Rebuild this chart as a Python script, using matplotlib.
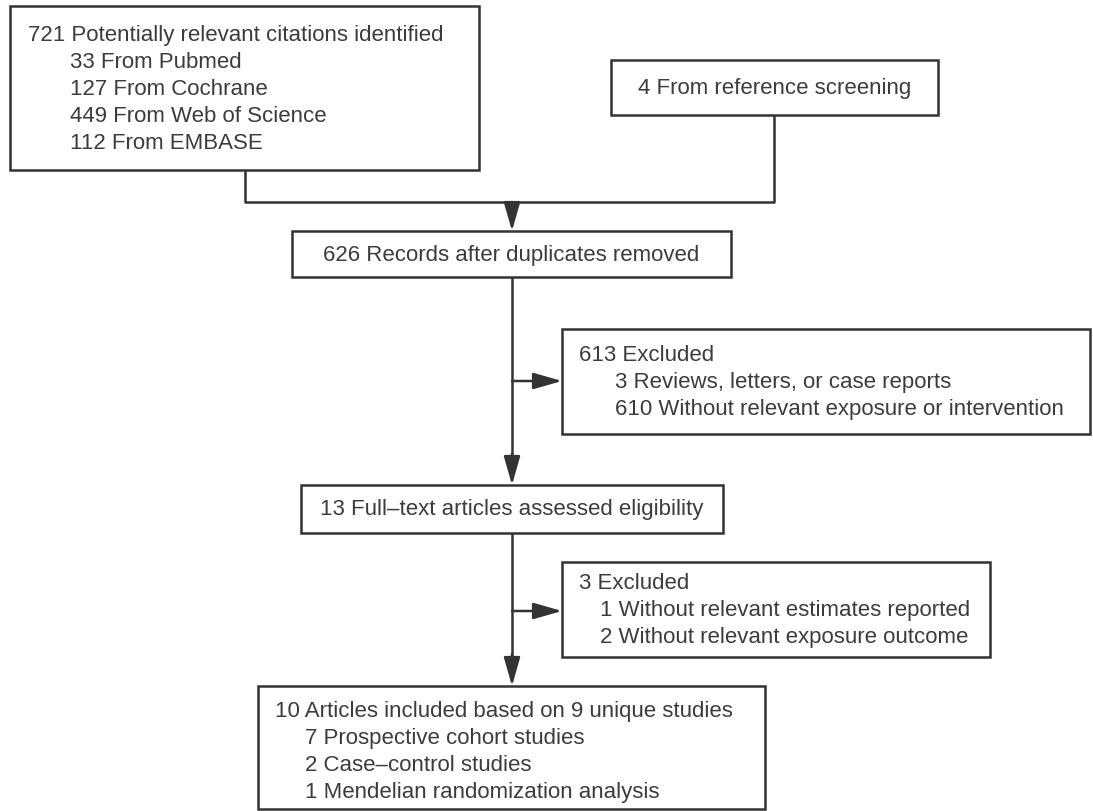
import matplotlib
matplotlib.use('Agg')
import matplotlib.pyplot as plt
from matplotlib.patches import Rectangle

# Box texts of the flow diagram
search_lines = ['721 Potentially relevant citations identified',
	'33 From Pubmed',
	'127 From Cochrane',
	'449 From Web of Science',
	'112 From EMBASE']
reference_lines = ['4 From reference screening']
dedup_lines = ['626 Records after duplicates removed']
excluded1_lines = ['613 Excluded',
	'3 Reviews, letters, or case reports',
	'610 Without relevant exposure or intervention']
fulltext_lines = ['13 Full\u2013text articles assessed eligibility']
excluded2_lines = ['3 Excluded',
	'1 Without relevant estimates reported',
	'2 Without relevant exposure outcome']
included_lines = ['10 Articles included based on 9 unique studies',
	'7 Prospective cohort studies',
	'2 Case\u2013control studies',
	'1 Mendelian randomization analysis']

INK = '#333333'
TXT = '#3c3c3c'
FS = 16
STEP = 26.8 # line spacing in px

def box(ax, x0, y0, x1, y1):
	ax.add_patch(Rectangle((x0, y0), x1-x0, y1-y0, fill=False, edgecolor=INK, lw=1.8))

def list_text(ax, lines, x, xind, y):
	# first line at x, the rest indented at xind
	for i, s in enumerate(lines):
		ax.text(x if i == 0 else xind, y + i*STEP, s, ha='left', va='center',
			fontsize=FS, color=TXT)

def centre_text(ax, lines, x0, y0, x1, y1):
	ax.text((x0+x1)/2, (y0+y1)/2, lines[0], ha='center', va='center', fontsize=FS, color=TXT)

def line(ax, xs, ys):
	ax.plot(xs, ys, color=INK, lw=1.8, solid_capstyle='butt')

def arrow(ax, x0, y0, x1, y1):
	ax.annotate('', xy=(x1, y1), xytext=(x0, y0),
		arrowprops=dict(arrowstyle='-|>,head_length=1.75,head_width=0.5', mutation_scale=10,
			color=INK, lw=1.8, shrinkA=0, shrinkB=0))

def make_plot():
	plt.rcParams['font.family'] = ['Liberation Sans', 'DejaVu Sans']
	fig = plt.figure(figsize=(10.93, 8.12), dpi=100)
	ax = fig.add_axes([0, 0, 1, 1])
	ax.set_xlim(0, 1093)
	ax.set_ylim(812, 0)
	ax.axis('off')

	cx = 512 # main vertical flow

	box(ax, 10, 7, 479, 171)
	list_text(ax, search_lines, 28, 70, 36)

	box(ax, 611, 61, 938, 116)
	centre_text(ax, reference_lines, 611, 61, 938, 116)

	line(ax, [245, 245, 774, 774], [171, 203, 203, 116])
	arrow(ax, cx, 203, cx, 232)

	box(ax, 292, 232, 731, 278)
	centre_text(ax, dedup_lines, 292, 232, 731, 278)

	line(ax, [cx, cx], [278, 460])
	arrow(ax, cx, 382, 562, 382)
	box(ax, 562, 330, 1090, 435)
	list_text(ax, excluded1_lines, 579, 615, 356)

	arrow(ax, cx, 455, cx, 486)
	box(ax, 301, 486, 723, 534)
	centre_text(ax, fulltext_lines, 301, 486, 723, 534)

	line(ax, [cx, cx], [534, 660])
	arrow(ax, cx, 612, 562, 612)
	box(ax, 562, 563, 990, 658)
	list_text(ax, excluded2_lines, 579, 600, 584)

	arrow(ax, cx, 655, cx, 687)
	box(ax, 258, 687, 765, 810)
	list_text(ax, included_lines, 275, 305, 712)

	fig.savefig('out.png', dpi=100, facecolor='white')

if __name__ == '__main__': make_plot()
